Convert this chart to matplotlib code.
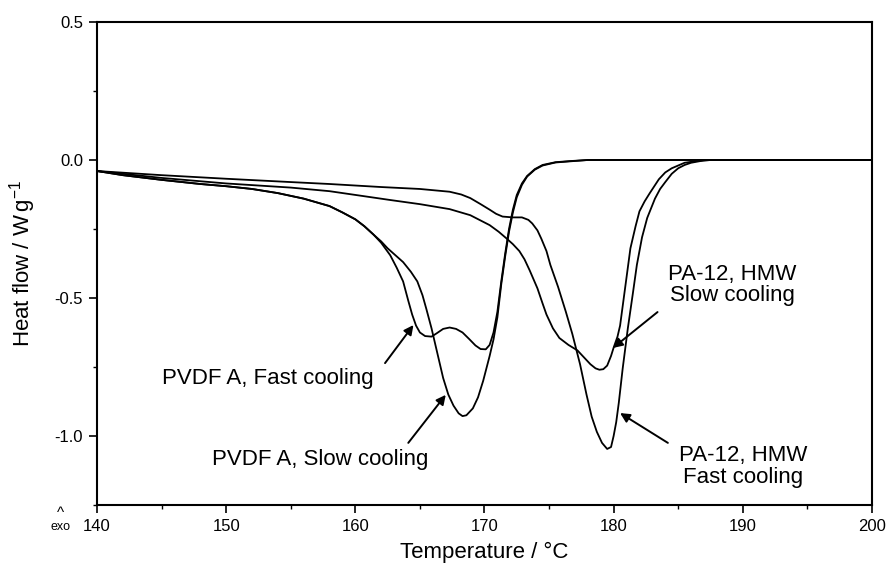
import numpy as np
import matplotlib
matplotlib.use('Agg')
import matplotlib.pyplot as plt
from matplotlib.ticker import MultipleLocator, FormatStrFormatter

plt.rcParams['font.family'] = ['Liberation Sans', 'DejaVu Sans']
plt.rcParams['mathtext.fontset'] = 'custom'
plt.rcParams['mathtext.rm'] = 'Liberation Sans'
plt.rcParams['axes.unicode_minus'] = False

# DSC cooling traces (temperature in deg C, heat flow in W/g)
pvdf_fast_T = [140, 142, 145, 148, 150, 152, 154, 156, 158, 159, 160, 160.7, 161.4, 162.0,
               162.7, 163.2, 163.7, 164.1, 164.4, 164.7, 165.0, 165.4, 165.9, 166.3, 166.8,
               167.3, 167.8, 168.3, 168.8, 169.3, 169.7, 170.1, 170.4, 170.7, 171.0, 171.3,
               171.6, 171.9, 172.2, 172.5, 172.9, 173.3, 173.9, 174.5, 175.5, 176.6, 178, 200]
pvdf_fast_Q = [-0.04, -0.055, -0.072, -0.087, -0.095, -0.105, -0.12, -0.14, -0.167, -0.19,
               -0.215, -0.24, -0.27, -0.30, -0.345, -0.39, -0.44, -0.51, -0.56, -0.60, -0.625,
               -0.638, -0.64, -0.628, -0.612, -0.607, -0.612, -0.625, -0.648, -0.672, -0.685,
               -0.686, -0.67, -0.625, -0.55, -0.44, -0.34, -0.25, -0.18, -0.127, -0.085,
               -0.058, -0.033, -0.018, -0.008, -0.004, 0.0, 0.0]

pvdf_slow_T = [140, 142, 145, 148, 150, 152, 154, 156, 158, 159, 160, 160.7, 161.4, 162.0,
               162.5, 163.1, 163.7, 164.3, 164.8, 165.2, 165.5, 165.9, 166.3, 166.8, 167.2,
               167.6, 168.0, 168.3, 168.6, 169.1, 169.5, 169.9, 170.4, 170.7, 171.0, 171.3,
               171.6, 171.9, 172.2, 172.5, 172.9, 173.3, 173.9, 174.5, 175.5, 176.6, 178, 200]
pvdf_slow_Q = [-0.04, -0.055, -0.072, -0.087, -0.095, -0.105, -0.12, -0.14, -0.167, -0.19,
               -0.215, -0.24, -0.27, -0.295, -0.32, -0.345, -0.37, -0.405, -0.44, -0.49,
               -0.54, -0.61, -0.69, -0.79, -0.85, -0.89, -0.918, -0.928, -0.925, -0.90, -0.86,
               -0.80, -0.71, -0.65, -0.57, -0.45, -0.35, -0.26, -0.19, -0.135, -0.09, -0.06,
               -0.035, -0.02, -0.009, -0.005, 0.0, 0.0]

pa_fast_T = [140, 145, 150, 155, 158, 162, 165, 167.3, 168.2, 168.9, 169.7, 170.4, 170.9,
             171.4, 172.2, 172.9, 173.4, 173.7, 174.1, 174.4, 174.8, 175.1, 175.7, 176.3,
             176.8, 177.4, 177.9, 178.3, 178.7, 179.1, 179.5, 179.8, 180.0, 180.2, 180.4,
             180.7, 181.1, 181.5, 181.8, 182.2, 182.6, 183.2, 183.6, 184.0, 184.5, 185.0,
             185.5, 186.0, 186.7, 187.5, 200]
pa_fast_Q = [-0.04, -0.055, -0.068, -0.08, -0.087, -0.098, -0.105, -0.115, -0.125, -0.138,
             -0.16, -0.18, -0.195, -0.205, -0.208, -0.208, -0.217, -0.23, -0.255, -0.285,
             -0.33, -0.38, -0.46, -0.55, -0.63, -0.74, -0.85, -0.93, -0.985, -1.025, -1.047,
             -1.04, -1.0, -0.95, -0.88, -0.756, -0.61, -0.48, -0.38, -0.28, -0.21, -0.14,
             -0.105, -0.08, -0.05, -0.03, -0.018, -0.01, -0.004, 0.0, 0.0]

pa_slow_T = [140, 145, 150, 155, 158, 160.5, 162.7, 165, 167.3, 168.9, 170.4, 171.1, 171.7,
             172.2, 172.7, 173.1, 173.5, 174.1, 174.5, 174.8, 175.3, 175.8, 176.5, 177.2,
             177.7, 178.2, 178.6, 178.9, 179.2, 179.5, 179.8, 180.0, 180.3, 180.5, 180.9,
             181.3, 181.7, 182.0, 182.4, 182.8, 183.5, 184.0, 184.5, 185.5, 187, 200]
pa_slow_Q = [-0.04, -0.065, -0.085, -0.10, -0.113, -0.13, -0.145, -0.16, -0.178, -0.2,
             -0.236, -0.26, -0.284, -0.305, -0.33, -0.36, -0.40, -0.465, -0.52, -0.56, -0.61,
             -0.645, -0.67, -0.69, -0.715, -0.74, -0.755, -0.76, -0.758, -0.745, -0.71, -0.68,
             -0.64, -0.6, -0.46, -0.32, -0.24, -0.186, -0.15, -0.12, -0.07, -0.045, -0.03,
             -0.01, 0.0, 0.0]

curves = [(pvdf_fast_T, pvdf_fast_Q), (pvdf_slow_T, pvdf_slow_Q),
          (pa_fast_T, pa_fast_Q), (pa_slow_T, pa_slow_Q)]

# label text, text position, arrow tail, arrow head
labels = [
    ('PVDF A, Fast cooling', (153.2, -0.79), (162.3, -0.736), (164.5, -0.598)),
    ('PVDF A, Slow cooling', (157.3, -1.087), (164.1, -1.025), (167.0, -0.851)),
    ('PA-12, HMW\nSlow cooling', (189.2, -0.453), (183.4, -0.551), (179.95, -0.681)),
    ('PA-12, HMW\nFast cooling', (190.05, -1.112), (184.2, -1.025), (180.5, -0.917)),
]

fig = plt.figure(figsize=(8.87, 5.67), dpi=100)
ax = fig.add_axes([0.1094, 0.1094, 0.8736, 0.8518])

for T, Q in curves:
    ax.plot(T, Q, color='black', lw=1.3)

for text, pos, tail, head in labels:
    ax.text(pos[0], pos[1], text, ha='center', va='center', fontsize=16,
            linespacing=1.05)
    ax.annotate('', xy=head, xytext=tail,
                arrowprops=dict(arrowstyle='-|>', color='black', lw=1.4,
                                mutation_scale=14, shrinkA=0, shrinkB=0))

ax.set_xlim(140, 200)
ax.set_ylim(-1.25, 0.5)
ax.xaxis.set_major_locator(MultipleLocator(10))
ax.xaxis.set_minor_locator(MultipleLocator(5))
ax.yaxis.set_major_locator(MultipleLocator(0.5))
ax.yaxis.set_minor_locator(MultipleLocator(0.25))
ax.yaxis.set_major_formatter(FormatStrFormatter('%.1f'))
ax.tick_params(which='major', direction='out', length=6, width=1.2, labelsize=12, pad=4)
ax.tick_params(which='minor', direction='out', length=3, width=1.0)
for s in ax.spines.values():
    s.set_linewidth(1.5)

ax.set_xlabel('Temperature / °C', fontsize=16, labelpad=6)
ax.set_ylabel(r'Heat flow / W$\,$g$^{-1}$', fontsize=16, labelpad=12)

# exotherm direction marker below the y axis
ax.text(-0.047, -0.031, '^', transform=ax.transAxes, ha='center', va='bottom', fontsize=11)
ax.text(-0.047, -0.033, 'exo', transform=ax.transAxes, ha='center', va='top', fontsize=9)

fig.savefig('out.png', dpi=100)
